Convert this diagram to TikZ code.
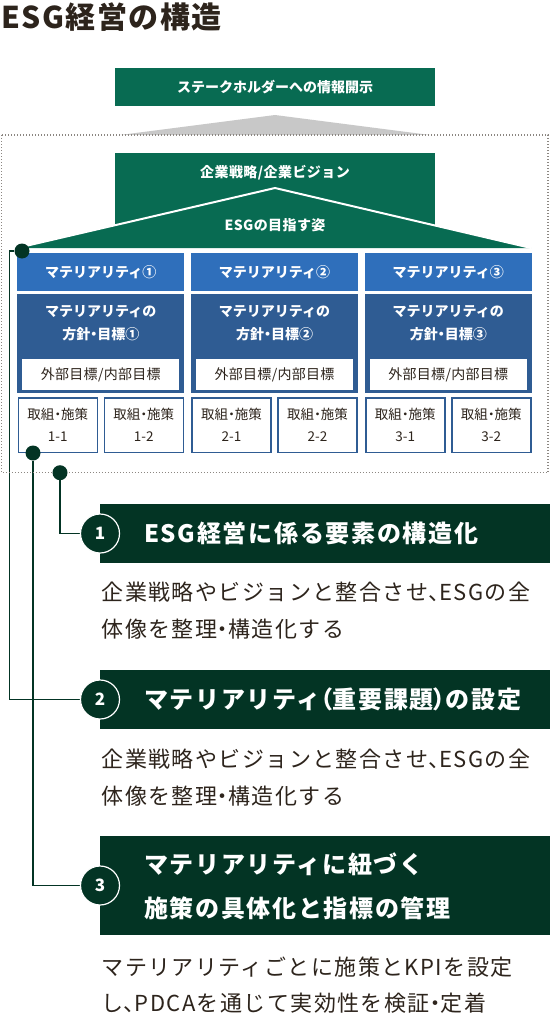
\documentclass[tikz,border=0pt]{standalone}
\usepackage{fontspec}
\setmainfont{Noto Sans CJK JP}
\usepackage{tikz}
\usetikzlibrary{positioning, backgrounds}
\definecolor{esggreen}{RGB}{8,107,82}
\definecolor{esgdark}{RGB}{3,52,36}
\definecolor{matblue}{RGB}{47,111,187}
\definecolor{polblue}{RGB}{47,92,147}
\definecolor{inkbrown}{RGB}{45,36,28}
\definecolor{framegray}{RGB}{140,135,130}
\definecolor{arrowgray}{RGB}{200,200,200}
% half-width punctuation
\newcommand{\hp}[1]{{\addfontfeature{RawFeature=+palt}#1}}

\begin{document}
\begin{tikzpicture}[x=1pt,y=-1pt,
  greenbox/.style={fill=esggreen, minimum width=320pt, inner sep=0pt},
  wtxt/.style={text=white, font=\fontsize{14}{22.6}\selectfont\bfseries\addfontfeature{LetterSpace=3}, align=center, inner sep=0pt},
  matbox/.style={fill=matblue, minimum width=167pt, minimum height=38pt, inner sep=0pt, text=white, font=\fontsize{14}{17}\selectfont\bfseries},
  polbox/.style={fill=polblue, minimum width=167pt, minimum height=99pt, inner sep=0pt},
  goalbox/.style={fill=white, minimum width=157pt, minimum height=31pt, inner sep=0pt, text=inkbrown, font=\fontsize{14}{17}\selectfont\addfontfeature{LetterSpace=2}},
  actbox/.style={draw=polblue, line width=1.5pt, fill=white, minimum width=79pt, minimum height=54.5pt, inner sep=0pt, align=center, text=inkbrown, font=\fontsize{13.5}{22}\selectfont},
  dot/.style={circle, fill=esgdark, minimum size=15pt, inner sep=0pt},
  conn/.style={draw=esgdark, line width=1.8pt},
  bar/.style={fill=esgdark, minimum width=450pt, inner sep=0pt, anchor=west},
  num/.style={circle, draw=white, line width=1.2pt, fill=esgdark, minimum size=39pt, inner sep=0pt, text=white, font=\fontsize{17}{20}\selectfont\bfseries},
  htxt/.style={anchor=west, text=white, inner sep=0pt, align=left, font=\fontsize{24}{44}\selectfont\bfseries\addfontfeature{LetterSpace=7}},
  btxt/.style={anchor=west, text=inkbrown, inner sep=0pt, align=left, font=\fontsize{22}{36.5}\selectfont\addfontfeature{LetterSpace=6.5}}
]
\useasboundingbox (0,0) rectangle (550,1014);

% title
\node[anchor=west, inner sep=0pt, text=inkbrown, font=\fontsize{30}{34}\selectfont\bfseries\addfontfeature{LetterSpace=5}] (title) at (1,17) {ESG経営の構造};

% disclosure and arrow
\node[greenbox, minimum height=38pt] (disc) at (275,87) {};
\node[wtxt, font=\fontsize{14}{17}\selectfont\bfseries] (disctxt) at (275,87) {ステークホルダーへの情報開示};
\fill[arrowgray] (120,135) -- (275,115) -- (430,135) -- cycle;

% structure frame
\draw[framegray, line width=1.2pt, dash pattern=on 1.2pt off 1.8pt] (1.5,135) rectangle (548,472.7);

\node[greenbox, minimum height=95pt, anchor=north] (strat) at (275,153) {};
\node[wtxt] (strattxt) at (275,173) {企業戦略/企業ビジョン};
\filldraw[fill=esggreen, draw=white, line width=2pt] (17,248) -- (275,188) -- (531,248);
\node[wtxt] (vision) at (275,225) {ESGの目指す姿};

% materiality columns
\foreach \i/\cx/\c in {1/100.75/①, 2/274.5/②, 3/448.25/③} {
  \node[matbox] (mat\i) at (\cx,272) {マテリアリティ\c};
  \node[polbox] (pol\i) at (\cx,343.5) {};
  \node[wtxt, font=\fontsize{14}{22.6}\selectfont\bfseries] (poltxt\i) at (\cx,323) {マテリアリティの\\方針\hp{・}目標\c};
  \node[goalbox] (goal\i) at (\cx,374.5) {外部目標/内部目標};
  \node[actbox] (act\i a) at (\cx-43,425) {取組\hp{・}施策\\\i-1};
  \node[actbox] (act\i b) at (\cx+43,425) {取組\hp{・}施策\\\i-2};
}

% points
\node[dot] (d1) at (22,251) {};
\node[dot] (d2) at (33,453) {};
\node[dot] (d3) at (60,472.7) {};

% steps
\node[bar, minimum height=59pt] (bar1) at (100,533.5) {};
\node[bar, minimum height=59pt] (bar2) at (100,699.5) {};
\node[bar, minimum height=99pt] (bar3) at (100,885.5) {};

\node[num] (n1) at (100,533.5) {1};
\node[num] (n2) at (100,699.5) {2};
\node[num] (n3) at (100,885.5) {3};

\begin{scope}[on background layer]
\draw[conn] (d3) |- (n1);
\draw[conn] (d1) -- ++(-12.5,0) |- (n2);
\draw[conn] (d2) |- (n3);
\end{scope}

\node[htxt] (h1) at (144,533.5) {ESG経営に係る要素の構造化};
\node[htxt] (h2) at (144,699.5) {マテリアリティ\hp{（}重要課題\hp{）}の設定};
\node[htxt] (h3) at (144,886) {マテリアリティに紐づく\\施策の具体化と指標の管理};

\node[btxt] (b1) at (101.5,610.5) {企業戦略やビジョンと整合させ\hp{、}ESGの全\\体像を整理\hp{・}構造化する};
\node[btxt] (b2) at (101.5,777.5) {企業戦略やビジョンと整合させ\hp{、}ESGの全\\体像を整理\hp{・}構造化する};
\node[btxt] (b3) at (101.5,985) {マテリアリティごとに施策とKPIを設定\\し\hp{、}PDCAを通じて実効性を検証\hp{・}定着};

\end{tikzpicture}
\end{document}
